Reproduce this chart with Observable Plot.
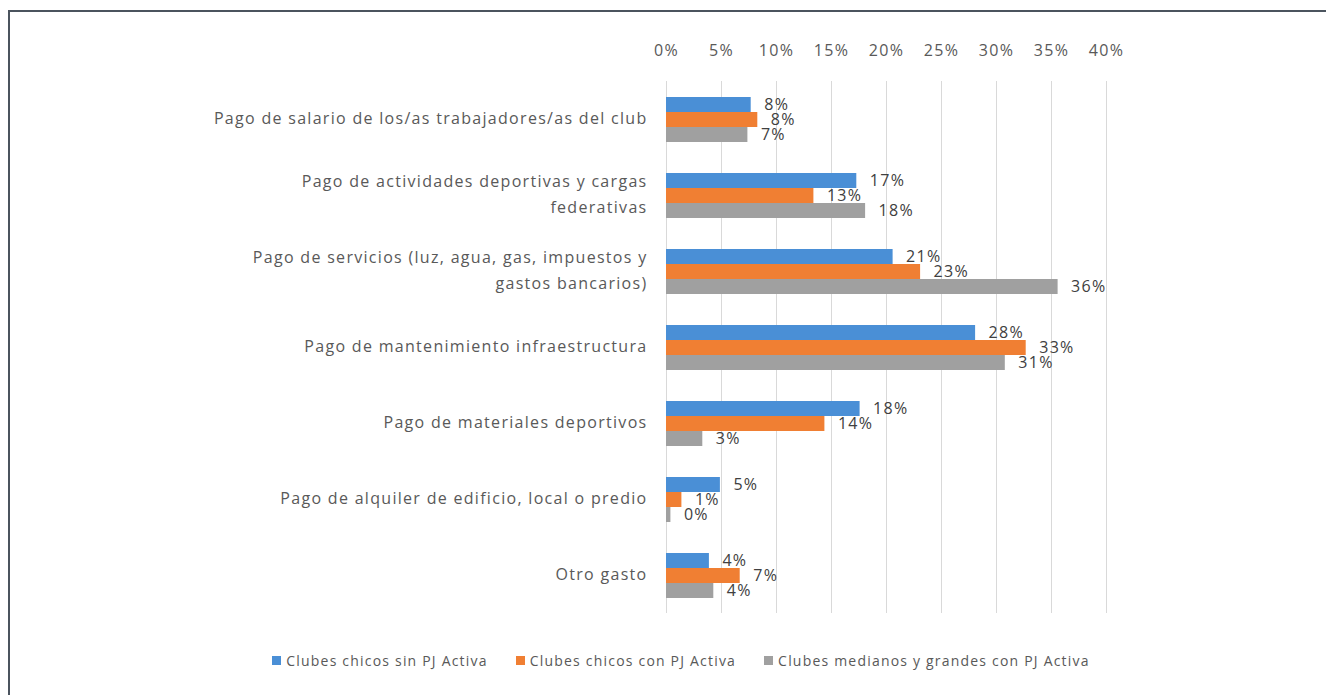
<!DOCTYPE html>
<html>
<head>
<meta charset="utf-8">
<script src="https://cdn.jsdelivr.net/npm/d3@7"></script>
<script src="https://cdn.jsdelivr.net/npm/@observablehq/plot@0.6"></script>
<style>
  html, body { margin: 0; padding: 0; background: #fff; }
  #wrap { position: relative; width: 1326px; height: 695px; overflow: hidden; background: #fff; }
  #frame { position: absolute; left: 8px; top: 9.5px; width: 1400px; height: 800px;
           border-top: 2.5px solid #4b545e; border-left: 2.5px solid #4b545e; box-sizing: border-box; }
  #chart { position: absolute; left: 0; top: 0; }
  #chart svg text { letter-spacing: 1.3px; }
  #legend { position: absolute; left: 0; top: 650px; width: 1326px; height: 20px;
            display: flex; justify-content: center; align-items: center; padding-left: 36px; box-sizing: border-box;
            font-family: "Open Sans", sans-serif; font-size: 14px; color: #595959; letter-spacing: 1.2px; }
  .item { display: flex; align-items: center; margin: 0 14px; }
  .sw { width: 9px; height: 9px; margin-right: 5px; }
</style>
</head>
<body>
<div id="wrap">
  <div id="frame"></div>
  <div id="chart"></div>
  <div id="legend"></div>
</div>
<script>
const categories = [
  "Pago de salario de los/as trabajadores/as del club",
  "Pago de actividades deportivas y cargas\nfederativas",
  "Pago de servicios (luz, agua, gas, impuestos y\ngastos bancarios)",
  "Pago de mantenimiento infraestructura",
  "Pago de materiales deportivos",
  "Pago de alquiler de edificio, local o predio",
  "Otro gasto"
];
const series = [
  "Clubes chicos sin PJ Activa",
  "Clubes chicos con PJ Activa",
  "Clubes medianos y grandes con PJ Activa"
];
const colors = ["#4a8fd6", "#f07f33", "#a0a0a0"];
const sinPJ = [7.7, 17.3, 20.6, 28.1, 17.6, 4.9, 3.9];
const conPJ = [8.3, 13.4, 23.1, 32.7, 14.4, 1.4, 6.7];
const medianos = [7.4, 18.1, 35.6, 30.8, 3.3, 0.4, 4.3];
const xTicks = [0, 5, 10, 15, 20, 25, 30, 35, 40];

const seriesValues = [sinPJ, conPJ, medianos];
const data = [];
categories.forEach((c, i) => {
  series.forEach((s, j) => data.push({category: c, series: s, value: seriesValues[j][i]}));
});

const textColor = "#595959";

const chart = Plot.plot({
  width: 1326,
  height: 640,
  marginLeft: 666,
  marginRight: 220,
  marginTop: 79,
  marginBottom: 26,
  style: { fontFamily: "Open Sans, sans-serif", background: "transparent" },
  x: { domain: [0, 40], ticks: xTicks },
  fy: { domain: categories, padding: 0, axis: null },
  y: { domain: series, paddingInner: 0, paddingOuter: 0.89, axis: null },
  color: { domain: series, range: colors },
  marks: [
    Plot.gridX(xTicks, { stroke: "#d9d9d9", strokeOpacity: 1, strokeWidth: 1 }),
    Plot.axisX(xTicks, {
      anchor: "top", tickSize: 0, tickPadding: 26,
      tickFormat: d => d + "%", fontSize: 16, fill: textColor, label: null
    }),
    Plot.barX(data, { fy: "category", y: "series", x: "value", fill: "series" }),
    Plot.text(data, {
      fy: "category", y: "series", x: "value", text: d => Math.round(d.value) + "%",
      textAnchor: "start", dx: 13, fontSize: 16, fill: "#404040"
    }),
    Plot.text(categories, {
      fy: d => d, text: d => d, frameAnchor: "left", textAnchor: "end", dx: -19, dy: -4,
      lineHeight: 1.65, fontSize: 16, fill: textColor, ariaLabel: "category-labels"
    })
  ]
});
document.getElementById("chart").appendChild(chart);

// center the lines of wrapped category labels within their right-aligned block
chart.querySelectorAll('g[aria-label="category-labels"] text').forEach(t => {
  const spans = t.querySelectorAll("tspan");
  if (spans.length > 1) {
    const W = d3.max(Array.from(spans), s => s.getComputedTextLength());
    t.setAttribute("text-anchor", "middle");
    spans.forEach(s => s.setAttribute("x", -W / 2));
  }
});

const legend = document.getElementById("legend");
series.forEach((s, i) => {
  const item = document.createElement("div");
  item.className = "item";
  const sw = document.createElement("div");
  sw.className = "sw";
  sw.style.background = colors[i];
  const label = document.createElement("span");
  label.textContent = s;
  item.appendChild(sw);
  item.appendChild(label);
  legend.appendChild(item);
});
</script>
</body>
</html>
